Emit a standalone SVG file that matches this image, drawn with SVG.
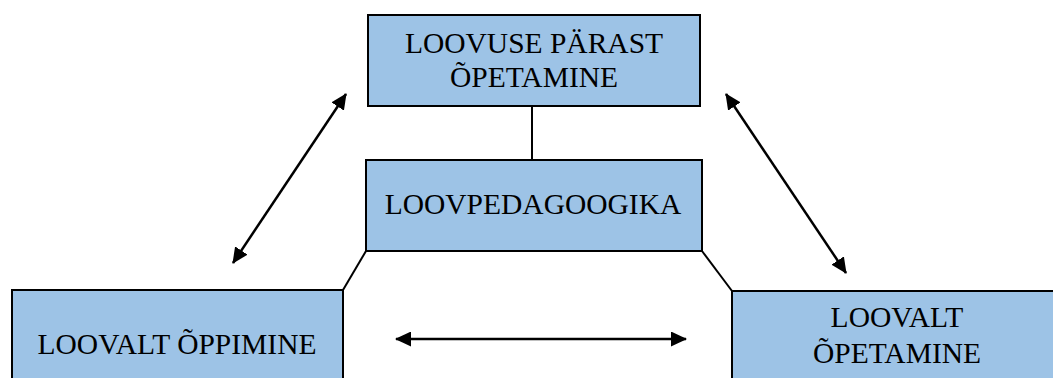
<svg xmlns="http://www.w3.org/2000/svg" width="1053" height="378" viewBox="0 0 1053 378">
<style>
.box{fill:#9DC3E6;stroke:#000;stroke-width:2}
.t{font-family:"Liberation Serif","Times New Roman",serif;font-size:29.5px;fill:#000;text-anchor:middle}
.ln{stroke:#000;stroke-width:2;fill:none}
.ar{stroke:#000;stroke-width:2.5;fill:none;marker-start:url(#ah);marker-end:url(#ah)}
</style>
<defs>
<marker id="ah" viewBox="0 0 16 15" markerWidth="16" markerHeight="15" refX="15" refY="7.5" orient="auto-start-reverse" markerUnits="userSpaceOnUse">
<path d="M0,0 L16,7.5 L0,15 z" fill="#000"/>
</marker>
</defs>
<g id="connectors">
<line class="ln" x1="532" y1="106" x2="532" y2="160"/>
<line class="ln" x1="366" y1="251" x2="343" y2="290"/>
<line class="ln" x1="702" y1="251" x2="732" y2="291"/>
<line class="ar" x1="346" y1="94" x2="233" y2="263"/>
<line class="ar" x1="726" y1="94" x2="846" y2="273"/>
<line class="ar" x1="396" y1="339" x2="686" y2="339"/>
</g>
<g id="node-top">
<rect class="box" x="368" y="15" width="332" height="91"/>
<text class="t" x="534" y="53">LOOVUSE PÄRAST</text>
<text class="t" x="534" y="87">ÕPETAMINE</text>
</g>
<g id="node-center">
<rect class="box" x="366" y="160" width="336" height="91"/>
<text class="t" x="533" y="214">LOOVPEDAGOOGIKA</text>
</g>
<g id="node-left">
<rect class="box" x="12" y="290" width="331" height="100"/>
<text class="t" x="177" y="354">LOOVALT ÕPPIMINE</text>
</g>
<g id="node-right">
<rect class="box" x="732" y="291" width="332" height="100"/>
<text class="t" x="897" y="327">LOOVALT</text>
<text class="t" x="897" y="363">ÕPETAMINE</text>
</g>
</svg>
